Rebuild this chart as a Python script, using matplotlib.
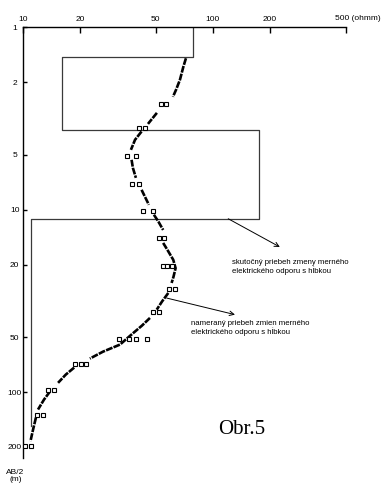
import numpy as np
import matplotlib

matplotlib.use("Agg")
import matplotlib.pyplot as plt

# true (model) resistivity vs depth, step profile
model_depth = [1.0, 1.45, 1.45, 3.64, 3.64, 11.2, 11.2, 154.0]
model_rho = [79.0, 79.0, 16.0, 16.0, 175.0, 175.0, 11.0, 11.0]

# measured apparent resistivity curve (NaN = break in the line)
curve_depth = [1.475, 1.64, 1.94, 2.20, 2.40, np.nan,
               2.94, 3.38, np.nan,
               3.72, 4.13, 4.69, np.nan,
               5.32, 5.89, 6.68, np.nan,
               7.77, 9.39, np.nan,
               10.65, 11.6, 12.9, np.nan,
               15.2, 16.8, 18.8, 20.9, 23.3, 25.2, np.nan,
               28.6, 31.9, 35.3, np.nan,
               39.2, 43.2, 47.4, 54.9, 60.0, 65.5, np.nan,
               73.4, 80.2, 89.0, np.nan,
               99.0, 110.0, 124.7, np.nan,
               138.0, 160.6, 186.0]
curve_rho = [72.1, 69.9, 67.0, 63.9, 61.6, np.nan,
             50.7, 45.5, np.nan,
             42.1, 38.9, 37.0, np.nan,
             37.3, 37.9, 39.3, np.nan,
             42.1, 46.0, np.nan,
             48.9, 51.6, 54.7, np.nan,
             54.7, 58.0, 61.8, 63.6, 62.0, 60.6, np.nan,
             58.2, 53.9, 50.6, np.nan,
             46.6, 42.3, 38.1, 32.4, 26.4, 22.5, np.nan,
             18.6, 16.8, 15.3, np.nan,
             13.9, 12.9, 12.0, np.nan,
             11.7, 11.3, 10.95]

# measured points (AB/2, rho)
point_depth = [2.63, 2.63, 3.58, 3.58, 5.10, 5.10, 7.23, 7.23, 10.1, 10.1,
               14.3, 14.3, 20.3, 20.3, 20.3, 27.2, 27.2, 36.4, 36.4,
               50.9, 50.9, 50.9, 50.9, 69.8, 69.8, 69.8, 96.9, 96.9,
               133.0, 133.0, 198.0, 198.0]
point_rho = [53.1, 56.6, 40.9, 44.0, 35.1, 39.2, 37.3, 40.9, 42.7, 48.2,
             52.2, 55.2, 54.4, 57.5, 60.9, 58.9, 62.9, 48.2, 52.2,
             32.0, 36.1, 39.2, 44.8, 18.8, 20.2, 21.5, 13.5, 14.6,
             11.8, 12.7, 10.3, 11.0]

x_ticks = [10, 20, 50, 100, 200, 500]
x_labels = ["10", "20", "50", "100", "200", ""]
y_ticks = [1, 2, 5, 10, 20, 50, 100, 200]
y_labels = ["1", "2", "5", "10", "20", "50", "100", "200"]

label_true = "skutočný priebeh zmeny merného\nelektrického odporu s hĺbkou"
label_meas = "nameraný priebeh zmien merného\nelektrického odporu s hĺbkou"

plt.rcParams["font.family"] = ["Liberation Sans", "DejaVu Sans"]

fig = plt.figure(figsize=(3.85, 4.84), dpi=100)
ax = fig.add_axes([0.0597, 0.0537, 0.8382, 0.8895])
ax.set_xscale("log")
ax.set_yscale("log")
ax.set_xlim(10, 500)
ax.set_ylim(230, 1)

ax.plot(model_rho, model_depth, color="#3a3a3a", lw=0.9, zorder=2)
ax.plot(curve_rho, curve_depth, color="black", lw=1.9,
        dashes=(2.6, 0.45), solid_capstyle="butt", zorder=3)
ax.plot(point_rho, point_depth, ls="none", marker="s", ms=3.0,
        mfc="white", mec="black", mew=0.8, zorder=4)

# spines / ticks
for side in ("right", "bottom"):
    ax.spines[side].set_visible(False)
for side in ("top", "left"):
    ax.spines[side].set_linewidth(1.0)
ax.set_xticks(x_ticks, x_labels)
ax.set_yticks(y_ticks, y_labels)
ax.minorticks_off()
ax.tick_params(axis="x", which="major", direction="in", length=4.5,
               width=1.0, pad=3.0, labelsize=6,
               top=True, labeltop=True, bottom=False, labelbottom=False)
ax.tick_params(axis="y", which="major", direction="in", length=3.0,
               width=1.0, pad=6, labelsize=6, left=True, right=False)
for lab in ax.get_yticklabels():
    lab.set_horizontalalignment("center")

fig.text(0.870, 0.962, "500 (ohmm)", fontsize=6, ha="left", va="center")
fig.text(0.040, 0.017, "AB/2\n(m)", fontsize=6, ha="center", va="center",
         linespacing=1.1)

# annotations
arrow = dict(arrowstyle="->", color="black", lw=0.7,
             mutation_scale=8, shrinkA=0, shrinkB=0)
ax.annotate("", xy=(225, 16.0), xytext=(120.4, 11.2), arrowprops=arrow)
ax.annotate("", xy=(130.6, 37.6), xytext=(57.1, 30.5), arrowprops=arrow)
ax.text(126.4, 20.5, label_true, fontsize=5.6, ha="left", va="center",
        linespacing=1.05)
ax.text(76.3, 44.7, label_meas, fontsize=5.6, ha="left", va="center",
        linespacing=1.05)

fig.text(0.628, 0.112, "Obr.5", fontsize=15, family="Liberation Serif",
         ha="center", va="center")

fig.savefig("out.png", dpi=100)
plt.close(fig)
